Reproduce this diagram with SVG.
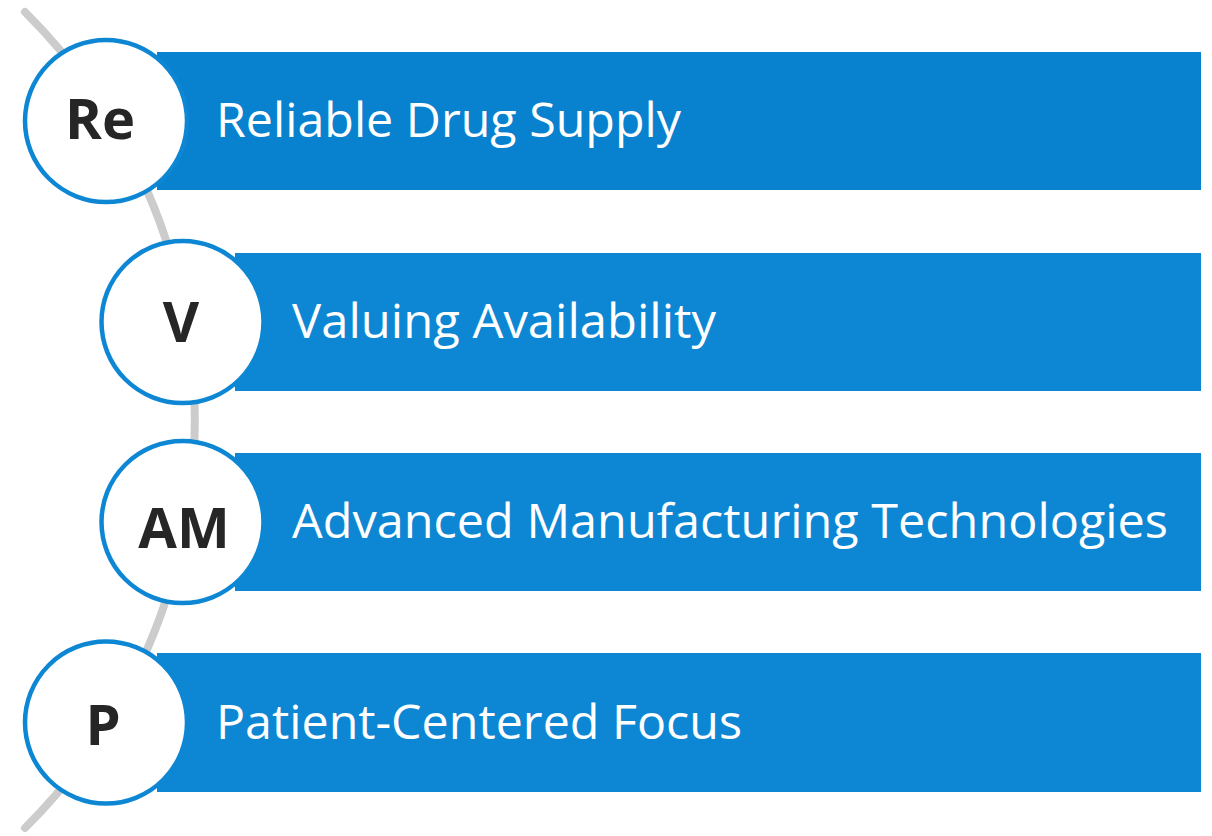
<svg xmlns="http://www.w3.org/2000/svg" width="1212" height="836" viewBox="0 0 1212 836">
<style>
.bar{fill:#0D87D4}
.bar1{fill:#0881CF}
.ring{fill:#FFFFFF;stroke:#0D87D4;stroke-width:4.5}
.lbl{font-family:"Open Sans","Liberation Sans",sans-serif;font-size:47px;fill:#FFFFFF}
.ini{font-family:"Open Sans","Liberation Sans",sans-serif;font-size:56px;font-weight:bold;fill:#262626;text-anchor:middle}
.arc{fill:none;stroke:#CCCCCC;stroke-width:8;stroke-linecap:round}
</style>
<rect width="1212" height="836" fill="#FFFFFF"/>
<g id="connectors">
<path class="arc" d="M25,12 A575,575 0 0 1 25,828"/>
</g>
<g id="node-re">
<rect class="bar1" x="157" y="52" width="1044" height="138"/>
<circle class="ring" cx="106" cy="121" r="81"/>
<text class="ini" x="100" y="139">Re</text>
<text class="lbl" x="216" y="137" textLength="465" lengthAdjust="spacingAndGlyphs">Reliable Drug Supply</text>
</g>
<g id="node-v">
<rect class="bar" x="235" y="253" width="966" height="138"/>
<circle class="ring" cx="182.5" cy="322" r="81"/>
<text class="ini" x="181" y="342">V</text>
<text class="lbl" x="292" y="338" textLength="424" lengthAdjust="spacingAndGlyphs">Valuing Availability</text>
</g>
<g id="node-am">
<rect class="bar" x="235" y="453" width="966" height="138"/>
<circle class="ring" cx="182.5" cy="522" r="81"/>
<text class="ini" x="184" y="548">AM</text>
<text class="lbl" x="292" y="538" textLength="876" lengthAdjust="spacingAndGlyphs">Advanced Manufacturing Technologies</text>
</g>
<g id="node-p">
<rect class="bar" x="157" y="653" width="1044" height="139"/>
<circle class="ring" cx="106" cy="722.5" r="81"/>
<text class="ini" x="103" y="745">P</text>
<text class="lbl" x="216" y="739" textLength="526" lengthAdjust="spacingAndGlyphs">Patient-Centered Focus</text>
</g>
</svg>
